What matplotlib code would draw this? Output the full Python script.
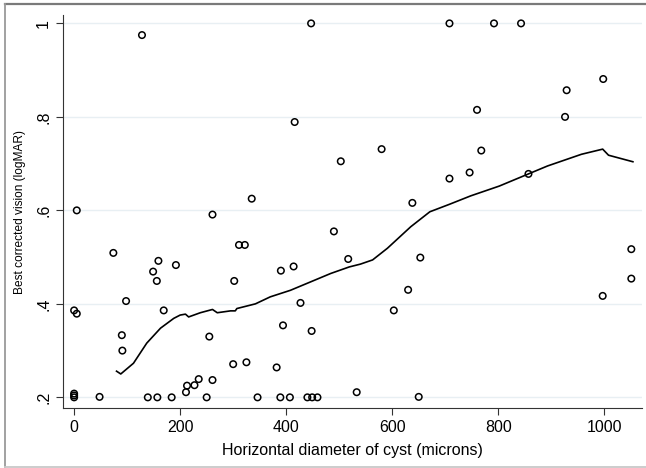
import matplotlib.pyplot as plt
from matplotlib.lines import Line2D

plt.rcParams['font.family'] = ['Liberation Sans', 'DejaVu Sans']

# scatter points
diameter = [0, 0, 0, 0, 5, 5, 48, 74, 90, 91, 98, 128, 139, 149, 156, 157, 159, 169,
            184, 192, 211, 213, 227, 235, 250, 255, 261, 261, 300, 302, 311, 322, 325,
            335, 346, 382, 389, 390, 394, 407, 414, 416, 427, 440, 447, 448, 449, 459,
            490, 503, 517, 533, 580, 603, 630, 638, 650, 653, 708, 708, 746, 760, 768,
            792, 843, 857, 926, 929, 997, 998, 1051, 1051]
vision = [0.200, 0.204, 0.208, 0.386, 0.379, 0.600, 0.201, 0.509, 0.333, 0.300, 0.406,
          0.975, 0.200, 0.469, 0.449, 0.200, 0.492, 0.386, 0.200, 0.483, 0.211, 0.225,
          0.226, 0.239, 0.200, 0.330, 0.237, 0.591, 0.271, 0.449, 0.526, 0.526, 0.275,
          0.625, 0.200, 0.264, 0.200, 0.471, 0.354, 0.200, 0.480, 0.789, 0.402, 0.200,
          1.000, 0.342, 0.200, 0.200, 0.555, 0.705, 0.496, 0.211, 0.731, 0.386, 0.430,
          0.616, 0.201, 0.499, 0.668, 1.000, 0.681, 0.815, 0.728, 1.000, 1.000, 0.678,
          0.800, 0.857, 0.417, 0.881, 0.454, 0.517]

# lowess smooth line
lowess_x = [80, 88, 112, 137, 163, 188, 200, 210, 216, 238, 261, 270, 295, 304, 307,
            342, 370, 408, 446, 484, 519, 540, 563, 591, 635, 671, 708, 748, 802, 857,
            893, 957, 997, 1008, 1054]
lowess_y = [0.256, 0.250, 0.273, 0.316, 0.348, 0.369, 0.376, 0.378, 0.372, 0.381, 0.388,
            0.381, 0.385, 0.385, 0.390, 0.400, 0.415, 0.429, 0.447, 0.465, 0.479, 0.485,
            0.494, 0.519, 0.565, 0.597, 0.613, 0.631, 0.652, 0.678, 0.695, 0.720, 0.731,
            0.718, 0.704]

xticks = [0, 200, 400, 600, 800, 1000]
yticks = [0.2, 0.4, 0.6, 0.8, 1.0]
ylabels = ['.2', '.4', '.6', '.8', '1']

fig = plt.figure(figsize=(6.46, 4.68), dpi=100)
ax = fig.add_axes([0.0975, 0.128, 0.897, 0.84])

for yt in yticks:
    ax.axhline(yt, color='#e8eff3', lw=1, zorder=0)

ax.scatter(diameter, vision, s=22, facecolors='none', edgecolors='black', linewidths=1.1, zorder=3)
ax.plot(lowess_x, lowess_y, color='black', lw=1.2, zorder=4)

ax.set_xlim(-21, 1072)
ax.set_ylim(0.177, 1.018)
ax.set_xticks(xticks)
ax.set_yticks(yticks)
ax.set_yticklabels(ylabels, rotation=90, va='center')
ax.tick_params(labelsize=11.5, length=5, width=0.8, color='#333333')

ax.spines['top'].set_visible(False)
ax.spines['right'].set_visible(False)
ax.spines['left'].set_color('#333333')
ax.spines['bottom'].set_color('#333333')

ax.set_xlabel('Horizontal diameter of cyst (microns)', fontsize=11.5, labelpad=6)
ax.set_ylabel('Best corrected vision (logMAR)', fontsize=8.6, labelpad=7)

# frame of the image: top, left, bottom (right side is cut off)
fig.lines.append(Line2D([0.008, 1.0], [0.9905, 0.9905], transform=fig.transFigure, color='#7a7a7a', lw=1.6))
fig.lines.append(Line2D([0.0085, 0.0085], [0.003, 0.991], transform=fig.transFigure, color='#9a9a9a', lw=1.3))
fig.lines.append(Line2D([0.008, 1.0], [0.003, 0.003], transform=fig.transFigure, color='#c8c8c8', lw=1.3))

fig.savefig('out.png', dpi=100)
